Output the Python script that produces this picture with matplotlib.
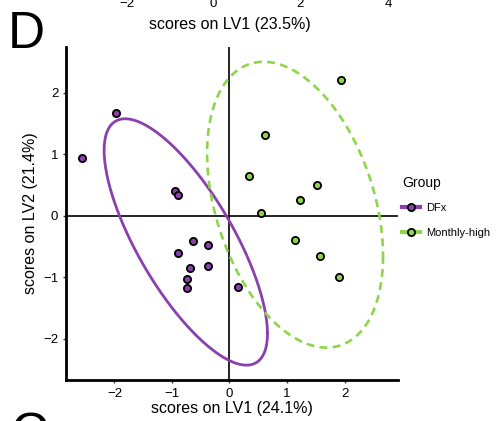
import numpy as np
import matplotlib
matplotlib.use("Agg")
import matplotlib.pyplot as plt
from matplotlib.lines import Line2D

plt.rcParams['font.family'] = ['Liberation Sans', 'DejaVu Sans']

# scores
dfx_lv1 = [-2.57, -1.97, -0.94, -0.90, -0.89, -0.64, -0.37, -0.69, -0.38, -0.74, -0.74, 0.15]
dfx_lv2 = [0.94, 1.67, 0.41, 0.34, -0.61, -0.41, -0.47, -0.84, -0.82, -1.02, -1.17, -1.15]
mh_lv1 = [1.94, 0.62, 0.34, 1.52, 1.22, 0.54, 1.14, 1.57, 1.91]
mh_lv2 = [2.21, 1.31, 0.64, 0.50, 0.25, 0.05, -0.39, -0.65, -1.00]

# ellipses: center, half ranges (x, y), phase between x and y (deg)
dfx_ell = [-0.76, -0.425, 1.42, 2.00, 138.0]
mh_ell = [1.14, 0.18, 1.53, 2.32, 111.0]

groups = ["DFx", "Monthly-high"]
colors = ["#8a40ae", "#8fd44c"]

x_ticks = [-2, -1, 0, 1, 2]
y_ticks = [-2, -1, 0, 1, 2]
prev_ticks = ["\u22122", "0", "2", "4"]
prev_tick_px = [127, 213, 300, 388]

fig = plt.figure(figsize=(4.97, 4.21), dpi=100)
W, H = 497, 421
ax = fig.add_axes([66 / W, 1 - 380 / H, (398 - 66) / W, (380 - 47) / H])

ax.axhline(0, color="black", lw=1.2, zorder=1)
ax.axvline(0, color="black", lw=1.2, zorder=1)

def ellipse(p):
    t = np.linspace(0, 2 * np.pi, 400)
    ph = np.deg2rad(p[4])
    return p[0] + p[2] * np.cos(t), p[1] + p[3] * np.cos(t + ph)

ex, ey = ellipse(dfx_ell)
ax.plot(ex, ey, color=colors[0], lw=2.0, zorder=2)
ex, ey = ellipse(mh_ell)
ax.plot(ex, ey, color=colors[1], lw=1.9, ls=(0, (3, 2)), zorder=2)

ax.plot(dfx_lv1, dfx_lv2, 'o', ms=5.2, mfc=colors[0], mec="black", mew=1.3, zorder=3)
ax.plot(mh_lv1, mh_lv2, 'o', ms=5.2, mfc=colors[1], mec="black", mew=1.3, zorder=3)

ax.set_xlim(-2.843, 2.930)
ax.set_ylim(-2.666, 2.740)
ax.set_xticks(x_ticks)
ax.set_yticks(y_ticks)
ax.set_xticklabels([str(v).replace("-", "\u2212") for v in x_ticks])
ax.set_yticklabels([str(v).replace("-", "\u2212") for v in y_ticks])
ax.tick_params(labelsize=9.5, length=2.5, width=1, color="#333333", labelcolor="black", pad=3)
for s in ["top", "right"]:
    ax.spines[s].set_visible(False)
for s in ["left", "bottom"]:
    ax.spines[s].set_linewidth(2)
ax.set_xlabel("scores on LV1 (24.1%)", fontsize=11.5, labelpad=1)
ax.set_ylabel("scores on LV2 (21.4%)", fontsize=11.5, labelpad=4)

handles = [Line2D([], [], color=c, lw=3, marker='o', ms=5.2, mfc=c, mec="black", mew=1.3)
           for c in colors]
leg = ax.legend(handles, groups, title="Group", loc="center left", bbox_to_anchor=(0.995, 0.52),
                frameon=False, fontsize=8, title_fontsize=10, handlelength=1.6,
                handletextpad=0.6, labelspacing=1.35, borderaxespad=0.1)
leg._legend_box.align = "left"
leg._legend_box.sep = 9

# remnants of neighbouring panels
fig.text(8 / W, 1 - 48 / H, "D", fontsize=37, va="baseline", ha="left")
fig.text(10 / W, 1 - 450 / H, "C", fontsize=37, va="baseline", ha="left")
for lab, px in zip(prev_ticks, prev_tick_px):
    fig.text(px / W, 1 - 7 / H, lab, fontsize=9.5, ha="center", va="baseline")
fig.text(230 / W, 1 - 25 / H, "scores on LV1 (23.5%)", fontsize=11.5, ha="center", va="center")

fig.savefig("out.png", dpi=100)
